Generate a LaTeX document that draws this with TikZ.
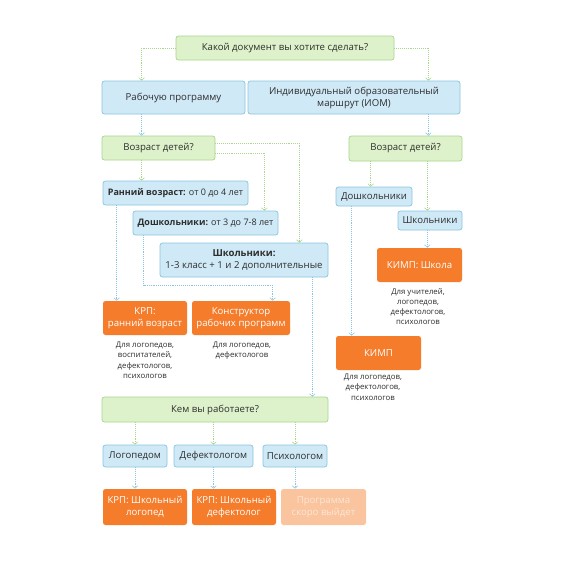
\documentclass[tikz,border=0pt]{standalone}
\usepackage{fontspec}
\setmainfont{Open Sans}
\usetikzlibrary{arrows.meta,calc}
\definecolor{gfill}{HTML}{DDF2CA}
\definecolor{gline}{HTML}{A9D68C}
\definecolor{bfill}{HTML}{CFE9F6}
\definecolor{bline}{HTML}{8AC5E0}
\definecolor{ofill}{HTML}{F47C2B}
\definecolor{lofill}{HTML}{F9C49E}
\definecolor{lotext}{HTML}{FDE6D5}
\definecolor{txt}{HTML}{2E2E2E}
\begin{document}
\begin{tikzpicture}[x=1pt,y=-1pt,
  base/.style={rounded corners=2.5pt, line width=0.7pt, inner sep=0pt, align=center,
    font=\fontsize{9.6}{12}\selectfont, text=txt},
  gbox/.style={base, fill=gfill, draw=gline},
  bbox/.style={base, fill=bfill, draw=bline},
  obox/.style={base, fill=ofill, text=white},
  lobox/.style={base, fill=lofill, text=lotext},
  small/.style={font=\fontsize{9}{11}\selectfont},
  note/.style={align=center, inner sep=0pt, text=txt, font=\fontsize{7.8}{10.2}\selectfont, anchor=north},
  con/.style={line width=0.7pt, dash pattern=on 0.8pt off 1.1pt,
    -{Straight Barb[length=2.5pt,width=5.5pt,line width=0.6pt]}},
  gcon/.style={con, draw=gline},
  bcon/.style={con, draw=bline}]
\useasboundingbox (0,0) rectangle (570,570);
\fill[white] (0,0) rectangle (570,570);

% nodes
\node[gbox, minimum width=218, minimum height=24] (top) at (285,48) {Какой документ вы хотите сделать?};
\node[bbox, minimum width=143, minimum height=33] (rab) at (173.5,97.5) {Рабочую программу};
\node[bbox, minimum width=212, minimum height=33] (iom) at (354,97.5) {Индивидуальный образовательный\\маршрут (ИОМ)};
\node[gbox, minimum width=113, minimum height=24] (voz1) at (158.5,148) {Возраст детей?};
\node[bbox, small, minimum width=145, minimum height=24] (rann) at (175.5,193) {\textbf{Ранний возраст:} от 0 до 4 лет};
\node[bbox, small, minimum width=145, minimum height=24] (dosh1) at (205.5,223) {\textbf{Дошкольники:} от 3 до 7-8 лет};
\node[bbox, minimum width=168, minimum height=34] (shk1) at (244,260) {\textbf{Школьники:}\\1-3 класс + 1 и 2 дополнительные};
\node[obox, minimum width=84, minimum height=34] (krp1) at (145,318) {КРП:\\ранний возраст};
\node[obox, minimum width=98, minimum height=34] (konst) at (241,318) {Конструктор\\рабочих программ};
\node[note] (n1) at (145,342) {Для логопедов,\\воспитателей,\\дефектологов,\\психологов};
\node[note] (n2) at (242,342) {Для логопедов,\\дефектологов};
\node[gbox, minimum width=226, minimum height=25] (kem) at (215,409.5) {Кем вы работаете?};
\node[bbox, minimum width=64, minimum height=22] (log) at (135,456) {Логопедом};
\node[bbox, minimum width=79, minimum height=22] (def) at (213.5,456) {Дефектологом};
\node[bbox, minimum width=64, minimum height=22] (psy) at (295,456) {Психологом};
\node[obox, minimum width=84, minimum height=36] (krplog) at (145,507) {КРП: Школьный\\логопед};
\node[obox, minimum width=84, minimum height=36] (krpdef) at (234,507) {КРП: Школьный\\дефектолог};
\node[lobox, minimum width=85, minimum height=36] (prog) at (323.5,507) {Программа\\скоро выйдет};

\node[gbox, minimum width=113, minimum height=25] (voz2) at (405.5,148.5) {Возраст детей?};
\node[bbox, minimum width=76, minimum height=19] (dosh2) at (374,196.5) {Дошкольники};
\node[bbox, minimum width=64, minimum height=19] (shk2) at (430,220.5) {Школьники};
\node[obox, minimum width=85, minimum height=34] (kimpsh) at (419.5,265) {КИМП: Школа};
\node[note] (n3) at (418,288) {Для учителей,\\логопедов,\\дефектологов,\\психологов};
\node[note] (n4) at (373,374) {Для логопедов,\\дефектологов,\\психологов};
\node[obox, minimum width=85, minimum height=34] (kimp) at (378.5,353) {КИМП};

% connectors
\coordinate (c1) at ([xshift=40]rab.north west);
\coordinate (c2) at ([xshift=-32]iom.north east);
\draw[gcon] (top.west) -| (c1);
\draw[gcon] (top.east) -| (c2);
\draw[bcon] ([xshift=40]rab.south west) -- ([xshift=40]voz1.north west);
\draw[gcon] ([xshift=40]voz1.south west) -- ([xshift=40]voz1.south west |- rann.north);
\draw[gcon] ([yshift=-5]voz1.east) -| ([xshift=-14]dosh1.north east);
\draw[gcon] ([yshift=5]voz1.east) -| ([xshift=-29]shk1.north east);
\draw[bcon] ([xshift=14]rann.south west) -- ([xshift=14]krp1.north west);
\coordinate (k1) at ([xshift=81]konst.north west);
\draw[bcon] ([xshift=11]dosh1.south west) -- ++(0,50) -| (k1);
\draw[bcon] ([xshift=-16]shk1.south east) -- ([xshift=-16]kem.north east);
\draw[gcon] (log.north |- kem.south) -- (log.north);
\draw[gcon] (def.north |- kem.south) -- (def.north);
\draw[gcon] (psy.north |- kem.south) -- (psy.north);
\draw[bcon] (log.south) -- (log.south |- krplog.north);
\draw[bcon] (def.south) -- (def.south |- krpdef.north);
\draw[bcon] (psy.south) -- (psy.south |- prog.north);
\draw[bcon] (c2 |- iom.south) -- (c2 |- voz2.north);
\draw[gcon] ([xshift=22]voz2.south west) -- ([xshift=22]voz2.south west |- dosh2.north);
\draw[gcon] ([xshift=-35]voz2.south east) -- ([xshift=-35]voz2.south east |- shk2.north);
\draw[bcon] ([xshift=-35]voz2.south east |- shk2.south) -- ([xshift=-35]voz2.south east |- kimpsh.north);
\draw[bcon] ([xshift=16]dosh2.south west) -- ([xshift=16]dosh2.south west |- kimp.north);
\end{tikzpicture}
\end{document}
